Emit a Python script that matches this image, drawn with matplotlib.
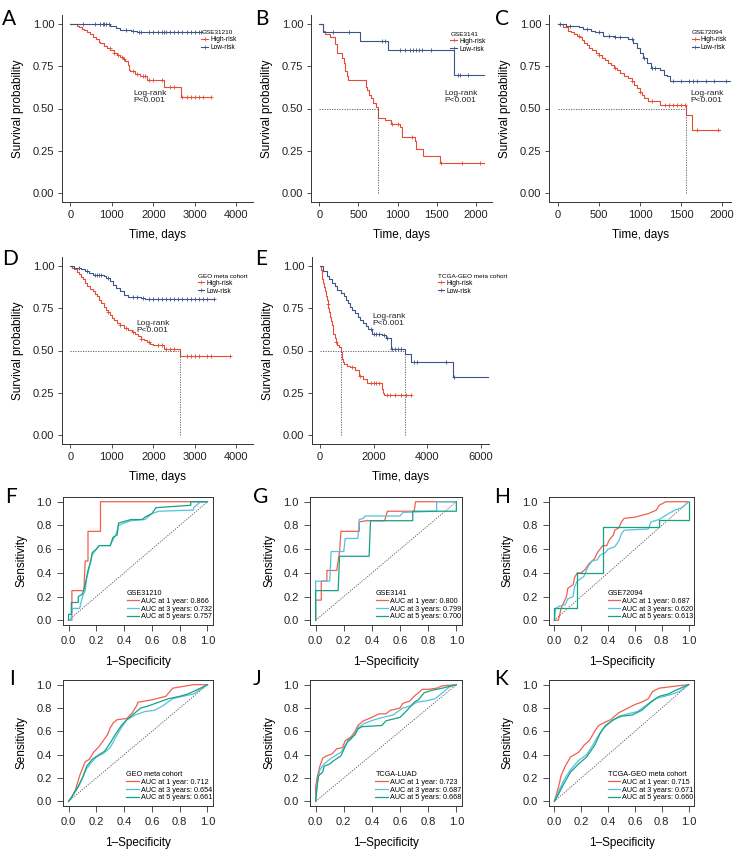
import numpy as np
import matplotlib.pyplot as plt

plt.rcParams['font.family'] = ['Liberation Sans', 'DejaVu Sans']

# ---------------- Kaplan-Meier data (event times, survival after event, end of follow-up, censor times)
A_cohort = 'GSE31210'
A_high_t = [160, 220, 280, 340, 400, 470, 540, 610, 680, 725, 800, 885, 960, 1046, 1130, 1207, 1270,
            1328, 1380, 1410, 1440, 1560, 1690, 1851, 2254, 2656]
A_high_s = [0.99, 0.98, 0.97, 0.965, 0.955, 0.94, 0.925, 0.91, 0.895, 0.885, 0.87, 0.855, 0.845, 0.83,
            0.815, 0.805, 0.795, 0.78, 0.76, 0.73, 0.72, 0.705, 0.69, 0.67, 0.63, 0.57]
A_high_end = 3400
A_high_cens = [950, 1050, 1150, 1250, 1300, 1500, 1600, 1750, 1800, 1900, 2000, 2200, 2400, 2500,
               2700, 2800, 2900, 3000, 3100, 3200, 3400]
A_low_t = [450, 960, 1000, 1100, 1200, 1300, 1450, 1610, 1850]
A_low_s = [0.998, 0.99, 0.985, 0.975, 0.965, 0.962, 0.958, 0.953, 0.95]
A_low_end = 3150
A_low_cens = [300, 600, 720, 780, 820, 870, 930, 1350, 1500, 1650, 1700, 1900, 2000, 2100, 2200, 2250,
              2300, 2400, 2500, 2600, 2700, 2800, 2900, 3000, 3100, 3150]

B_cohort = 'GSE3141'
B_high_t = [42, 76, 140, 203, 225, 290, 310, 330, 350, 373, 593, 615, 635, 661, 690, 720, 745, 840,
            910, 1030, 1050, 1220, 1240, 1326, 1540]
B_high_s = [0.96, 0.94, 0.92, 0.88, 0.83, 0.80, 0.77, 0.72, 0.69, 0.67, 0.63, 0.61, 0.58, 0.56, 0.53,
            0.51, 0.445, 0.43, 0.41, 0.39, 0.33, 0.31, 0.26, 0.22, 0.18]
B_high_end = 2100
B_high_cens = [930, 1000, 1180, 1560, 1820, 2050]
B_low_t = [42, 520, 880, 1720]
B_low_s = [0.955, 0.90, 0.845, 0.70]
B_low_end = 2100
B_low_cens = [180, 380, 800, 840, 1030, 1100, 1160, 1200, 1230, 1270, 1310, 1430, 1770, 1800, 1900]

C_cohort = 'GSE72094'
C_high_t = [60, 120, 160, 200, 230, 260, 290, 320, 350, 380, 420, 460, 500, 540, 575, 610, 645, 680,
            720, 760, 800, 850, 900, 930, 960, 1000, 1020, 1050, 1100, 1240, 1565, 1630]
C_high_s = [0.98, 0.96, 0.95, 0.94, 0.93, 0.92, 0.905, 0.89, 0.875, 0.86, 0.845, 0.83, 0.815, 0.80,
            0.785, 0.77, 0.755, 0.74, 0.725, 0.71, 0.695, 0.68, 0.66, 0.64, 0.62, 0.60, 0.58, 0.56,
            0.545, 0.52, 0.46, 0.37]
C_high_end = 1980
C_high_cens = [250, 500, 700, 900, 1000, 1150, 1300, 1350, 1400, 1450, 1500, 1550, 1700, 1950]
C_low_t = [100, 250, 300, 400, 450, 550, 700, 800, 850, 920, 960, 1000, 1040, 1080, 1140, 1250, 1290,
           1330, 1360]
C_low_s = [0.99, 0.98, 0.97, 0.96, 0.95, 0.93, 0.925, 0.92, 0.91, 0.89, 0.86, 0.83, 0.80, 0.77, 0.74,
           0.73, 0.70, 0.69, 0.66]
C_low_end = 2100
C_low_cens = [30, 150, 350, 500, 620, 700, 760, 900, 1050, 1150, 1180, 1400, 1500, 1600, 1650, 1700,
              1800, 1900, 2050]

D_cohort = 'GEO meta cohort'
D_high_t = [50, 100, 150, 200, 250, 300, 350, 400, 475, 550, 600, 650, 700, 750, 800, 850, 900, 950,
            1000, 1050, 1125, 1200, 1300, 1400, 1475, 1550, 1625, 1700, 1775, 1850, 1925, 2000, 2250,
            2650]
D_high_s = [0.99, 0.98, 0.965, 0.95, 0.935, 0.92, 0.90, 0.88, 0.865, 0.85, 0.835, 0.82, 0.80, 0.78,
            0.76, 0.74, 0.725, 0.71, 0.695, 0.68, 0.665, 0.65, 0.635, 0.62, 0.61, 0.60, 0.585, 0.57,
            0.56, 0.55, 0.54, 0.535, 0.51, 0.465]
D_high_end = 3850
D_high_cens = [900, 1200, 1350, 1500, 1700, 1900, 2100, 2200, 2300, 2400, 2500, 2800, 2900, 3000,
               3100, 3300, 3400, 3850]
D_low_t = [100, 250, 350, 450, 550, 800, 870, 950, 1020, 1100, 1200, 1300, 1400, 1700, 1800]
D_low_s = [0.99, 0.98, 0.97, 0.96, 0.945, 0.94, 0.93, 0.91, 0.89, 0.87, 0.85, 0.83, 0.815, 0.81, 0.805]
D_low_end = 3450
D_low_cens = [200, 400, 600, 650, 700, 750, 900, 1500, 1600, 1750, 1900, 2000, 2100, 2200, 2300, 2400,
              2500, 2600, 2700, 2800, 2900, 3000, 3100, 3200, 3300, 3450]

E_cohort = 'TCGA-GEO meta cohort'
E_high_t = [30, 60, 90, 120, 150, 190, 220, 250, 280, 310, 340, 370, 400, 440, 470, 500, 550, 600, 650,
            700, 770, 800, 850, 900, 1000, 1100, 1300, 1450, 1600, 1750, 2300, 2350, 2400]
E_high_s = [0.975, 0.95, 0.925, 0.90, 0.875, 0.85, 0.825, 0.80, 0.775, 0.75, 0.725, 0.70, 0.675, 0.65,
            0.625, 0.60, 0.575, 0.55, 0.535, 0.52, 0.49, 0.45, 0.43, 0.42, 0.41, 0.40, 0.385, 0.35,
            0.33, 0.305, 0.27, 0.25, 0.235]
E_high_end = 3400
E_high_cens = [300, 600, 1200, 1500, 1900, 2000, 2100, 2200, 2500, 2600, 2800, 3000, 3200, 3400]
E_low_t = [100, 250, 350, 450, 550, 650, 775, 900, 975, 1050, 1125, 1200, 1300, 1400, 1500, 1600, 1700,
           1800, 1950, 2300, 2450, 2650, 3150, 3400, 4950]
E_low_s = [0.97, 0.94, 0.92, 0.90, 0.88, 0.86, 0.84, 0.82, 0.80, 0.78, 0.76, 0.74, 0.72, 0.70, 0.68,
           0.66, 0.645, 0.63, 0.60, 0.59, 0.575, 0.51, 0.48, 0.43, 0.345]
E_low_end = 6300
E_low_cens = [1900, 2000, 2100, 2200, 2400, 2500, 2700, 2800, 2900, 3000, 3500, 3600, 4700, 5000]

# ---------------- time-dependent ROC data (1-specificity, sensitivity) and AUC
F_cohort = 'GSE31210'
F_auc = [0.866, 0.732, 0.757]
F_x1 = [0, 0.024, 0.024, 0.11, 0.12, 0.14, 0.14, 0.23, 0.23, 1.0]
F_y1 = [0, 0, 0.25, 0.25, 0.5, 0.5, 0.75, 0.75, 1.0, 1.0]
F_x3 = [0, 0.02, 0.02, 0.03, 0.08, 0.1, 0.12, 0.13, 0.15, 0.17, 0.2, 0.22, 0.3, 0.32, 0.34, 0.36, 0.4,
        0.45, 0.55, 0.57, 0.6, 0.65, 0.9, 0.9, 0.95, 1.0]
F_y3 = [0, 0, 0.05, 0.1, 0.1, 0.2, 0.25, 0.35, 0.45, 0.55, 0.6, 0.63, 0.63, 0.68, 0.72, 0.8, 0.82,
        0.84, 0.85, 0.87, 0.9, 0.92, 0.93, 0.95, 1.0, 1.0]
F_x5 = [0, 0, 0.02, 0.02, 0.07, 0.07, 0.1, 0.12, 0.14, 0.16, 0.17, 0.2, 0.22, 0.3, 0.32, 0.35, 0.36,
        0.42, 0.45, 0.53, 0.55, 0.6, 0.63, 0.88, 0.88, 1.0]
F_y5 = [0, 0.05, 0.05, 0.15, 0.15, 0.2, 0.22, 0.3, 0.42, 0.5, 0.57, 0.6, 0.63, 0.63, 0.7, 0.72, 0.82,
        0.84, 0.85, 0.85, 0.87, 0.9, 0.95, 0.97, 1.0, 1.0]

G_cohort = 'GSE3141'
G_auc = [0.800, 0.799, 0.700]
G_x1 = [0, 0, 0.04, 0.04, 0.08, 0.08, 0.15, 0.17, 0.18, 0.31, 0.31, 0.36, 0.49, 0.51, 0.7, 0.71, 1.0]
G_y1 = [0, 0.17, 0.17, 0.33, 0.33, 0.42, 0.42, 0.58, 0.75, 0.75, 0.83, 0.84, 0.84, 0.92, 0.92, 1.0, 1.0]
G_x3 = [0, 0, 0.1, 0.11, 0.2, 0.21, 0.3, 0.31, 0.34, 0.35, 0.6, 0.62, 0.86, 0.86, 1.0]
G_y3 = [0, 0.33, 0.33, 0.58, 0.58, 0.69, 0.69, 0.85, 0.86, 0.88, 0.88, 0.91, 0.92, 1.0, 1.0]
G_x5 = [0, 0, 0.16, 0.17, 0.38, 0.39, 0.69, 0.69, 1.0, 1.0]
G_y5 = [0, 0.25, 0.25, 0.54, 0.54, 0.84, 0.84, 0.92, 0.92, 1.0]

H_cohort = 'GSE72094'
H_auc = [0.687, 0.620, 0.613]
H_x1 = [0, 0.03, 0.04, 0.05, 0.07, 0.09, 0.1, 0.14, 0.15, 0.17, 0.2, 0.23, 0.26, 0.28, 0.3, 0.32, 0.34,
        0.36, 0.39, 0.41, 0.44, 0.45, 0.48, 0.5, 0.52, 0.6, 0.7, 0.76, 0.78, 0.83, 1.0]
H_y1 = [0, 0, 0.05, 0.1, 0.15, 0.2, 0.27, 0.3, 0.36, 0.4, 0.4, 0.43, 0.48, 0.5, 0.52, 0.57, 0.6, 0.63,
        0.63, 0.68, 0.72, 0.76, 0.78, 0.83, 0.86, 0.87, 0.9, 0.93, 0.97, 1.0, 1.0]
H_x3 = [0, 0.01, 0.04, 0.08, 0.1, 0.14, 0.15, 0.17, 0.22, 0.25, 0.28, 0.32, 0.34, 0.38, 0.4, 0.45, 0.48,
        0.5, 0.52, 0.7, 0.72, 0.78, 0.85, 0.9, 0.95, 1.0]
H_y3 = [0, 0.1, 0.12, 0.13, 0.18, 0.2, 0.28, 0.33, 0.37, 0.45, 0.5, 0.51, 0.55, 0.57, 0.6, 0.62, 0.67,
        0.73, 0.76, 0.77, 0.83, 0.85, 0.9, 0.93, 0.95, 1.0]
H_x5 = [0, 0, 0.17, 0.17, 0.36, 0.36, 0.78, 0.78, 1.0, 1.0]
H_y5 = [0, 0.1, 0.1, 0.4, 0.4, 0.79, 0.79, 0.85, 0.85, 1.0]

I_cohort = 'GEO meta cohort'
I_auc = [0.712, 0.654, 0.661]
I_x1 = [0, 0.02, 0.05, 0.08, 0.1, 0.12, 0.15, 0.18, 0.22, 0.25, 0.28, 0.3, 0.32, 0.35, 0.42, 0.46, 0.49,
        0.5, 0.6, 0.7, 0.75, 0.8, 0.9, 1.0]
I_y1 = [0, 0.03, 0.1, 0.22, 0.28, 0.34, 0.36, 0.42, 0.47, 0.52, 0.57, 0.63, 0.67, 0.7, 0.71, 0.76,
        0.82, 0.85, 0.87, 0.9, 0.97, 0.98, 1.0, 1.0]
I_x3 = [0, 0.03, 0.07, 0.1, 0.13, 0.17, 0.2, 0.25, 0.3, 0.34, 0.38, 0.42, 0.48, 0.55, 0.62, 0.68, 0.75,
        0.82, 0.9, 0.95, 1.0]
I_y3 = [0, 0.05, 0.12, 0.2, 0.28, 0.34, 0.38, 0.41, 0.46, 0.55, 0.63, 0.7, 0.74, 0.77, 0.78, 0.82, 0.88,
        0.9, 0.92, 0.96, 1.0]
I_x5 = [0, 0.03, 0.07, 0.1, 0.13, 0.17, 0.22, 0.26, 0.3, 0.33, 0.38, 0.42, 0.48, 0.52, 0.58, 0.65, 0.72,
        0.8, 0.86, 0.95, 1.0]
I_y5 = [0, 0.05, 0.13, 0.2, 0.3, 0.36, 0.4, 0.43, 0.5, 0.56, 0.65, 0.7, 0.76, 0.8, 0.82, 0.85, 0.88,
        0.9, 0.92, 0.97, 1.0]

J_cohort = 'TCGA-LUAD'
J_auc = [0.723, 0.687, 0.668]
J_x1 = [0, 0.0, 0.01, 0.03, 0.05, 0.08, 0.12, 0.15, 0.19, 0.21, 0.25, 0.28, 0.3, 0.34, 0.4, 0.45, 0.5,
        0.53, 0.6, 0.62, 0.67, 0.7, 0.73, 0.76, 0.8, 0.86, 0.9, 1.0]
J_y1 = [0, 0.12, 0.2, 0.3, 0.37, 0.39, 0.41, 0.45, 0.46, 0.52, 0.55, 0.6, 0.65, 0.69, 0.72, 0.75, 0.75,
        0.78, 0.8, 0.84, 0.86, 0.9, 0.93, 0.96, 0.96, 0.97, 0.99, 1.0]
J_x3 = [0, 0.01, 0.03, 0.06, 0.1, 0.15, 0.18, 0.22, 0.25, 0.28, 0.3, 0.35, 0.42, 0.48, 0.55, 0.62, 0.68,
        0.72, 0.78, 0.85, 0.9, 0.95, 1.0]
J_y3 = [0, 0.15, 0.27, 0.32, 0.36, 0.4, 0.42, 0.5, 0.53, 0.58, 0.63, 0.67, 0.7, 0.72, 0.74, 0.8, 0.82,
        0.85, 0.86, 0.88, 0.93, 0.98, 1.0]
J_x5 = [0, 0.01, 0.02, 0.05, 0.06, 0.1, 0.13, 0.18, 0.21, 0.23, 0.28, 0.3, 0.33, 0.47, 0.5, 0.6, 0.65,
        0.7, 0.73, 0.77, 0.82, 0.9, 1.0]
J_y5 = [0, 0.12, 0.22, 0.25, 0.3, 0.32, 0.35, 0.39, 0.47, 0.52, 0.57, 0.62, 0.64, 0.65, 0.69, 0.72, 0.78,
        0.85, 0.87, 0.93, 0.95, 0.97, 1.0]

K_cohort = 'TCGA-GEO meta cohort'
K_auc = [0.715, 0.671, 0.660]
K_x1 = [0, 0.03, 0.05, 0.08, 0.12, 0.18, 0.22, 0.26, 0.3, 0.33, 0.38, 0.42, 0.48, 0.55, 0.6, 0.65, 0.7,
        0.73, 0.78, 0.85, 0.92, 1.0]
K_y1 = [0, 0.12, 0.22, 0.3, 0.38, 0.42, 0.48, 0.52, 0.6, 0.65, 0.68, 0.7, 0.76, 0.8, 0.83, 0.85, 0.88,
        0.94, 0.97, 0.98, 0.99, 1.0]
K_x3 = [0, 0.03, 0.07, 0.12, 0.18, 0.24, 0.28, 0.32, 0.36, 0.42, 0.48, 0.55, 0.62, 0.68, 0.75, 0.82,
        0.88, 0.93, 1.0]
K_y3 = [0, 0.08, 0.18, 0.27, 0.35, 0.4, 0.47, 0.55, 0.62, 0.68, 0.73, 0.75, 0.77, 0.82, 0.88, 0.9,
        0.92, 0.94, 1.0]
K_x5 = [0, 0.03, 0.07, 0.12, 0.18, 0.24, 0.3, 0.34, 0.38, 0.44, 0.5, 0.58, 0.65, 0.72, 0.78, 0.85, 0.9,
        1.0]
K_y5 = [0, 0.06, 0.15, 0.25, 0.32, 0.38, 0.48, 0.58, 0.65, 0.7, 0.73, 0.74, 0.78, 0.85, 0.9, 0.92,
        0.95, 1.0]

KM_RED, KM_BLUE = '#E64B35', '#3C5488'
ROC_COLORS = ['#F0604D', '#56C1DE', '#15A286']
ROC_LABELS = ['AUC at 1 year: {:.3f}', 'AUC at 3 years: {:.3f}', 'AUC at 5 years: {:.3f}']
AX_COL = '#333333'

W, H = 735, 852
fig = plt.figure(figsize=(W / 100, H / 100), dpi=100)


def px_axes(x0, y0, x1, y1):
    return fig.add_axes([x0 / W, 1 - y1 / H, (x1 - x0) / W, (y1 - y0) / H])


def letter(x, y, s):
    fig.text(x / W, 1 - y / H, s, fontsize=15, family=['Lato', 'DejaVu Sans'],
             ha='left', va='center')


def km_panel(box, xlim, xticks, cohort, groups, pval_xy, leg_xy):
    ax = px_axes(*box)
    w = box[2] - box[0]
    h = box[3] - box[1]
    medians = []
    handles = []
    for (t, s, end, cens), col in zip(groups, [KM_RED, KM_BLUE]):
        tt = np.r_[0, t, end]
        ss = np.r_[1.0, s, s[-1]]
        ax.step(tt, ss, where='post', color=col, lw=0.8)
        cy = ss[np.searchsorted(tt, cens, side='right') - 1]
        ax.plot(cens, cy, '+', color=col, ms=2.8, mew=0.6)
        below = np.where(np.asarray(s) <= 0.5)[0]
        if len(below):
            medians.append(t[below[0]])
        handles.append(plt.Line2D([], [], color=col, lw=0.8, marker='+', ms=2.5, mew=0.5))
    if medians:
        ax.plot([0, max(medians)], [0.5, 0.5], ls=(0, (1.5, 1.5)), color='#555555', lw=0.6)
        for m in medians:
            ax.plot([m, m], [0, 0.5], ls=(0, (1.5, 1.5)), color='#555555', lw=0.6)
    ax.set_xlim(*xlim)
    ax.set_ylim(-0.053, 1.053)
    ax.set_xticks(xticks)
    ax.set_yticks([0, 0.25, 0.5, 0.75, 1.0])
    ax.set_yticklabels(['0.00', '0.25', '0.50', '0.75', '1.00'])
    for sp in ['top', 'right']:
        ax.spines[sp].set_visible(False)
    for sp in ['left', 'bottom']:
        ax.spines[sp].set_color(AX_COL)
        ax.spines[sp].set_linewidth(0.7)
    ax.tick_params(length=3, width=0.6, color=AX_COL, labelsize=8, pad=2.5, labelcolor='#222222')
    ax.set_ylabel('Survival probability', fontsize=8.5)
    ax.set_xlabel('Time, days', fontsize=8.5)
    ax.yaxis.set_label_coords(-38 / w, 0.5)
    ax.xaxis.set_label_coords(0.5, -27 / h)
    ax.text(pval_xy[0], pval_xy[1], 'Log-rank\nP<0.001', transform=ax.transAxes, fontsize=6,
            ha='left', va='top', linespacing=1.05, color='#222222')
    ax.legend(handles, ['High-risk', 'Low-risk'], title=cohort, loc='upper left',
              bbox_to_anchor=leg_xy, frameon=False, fontsize=4.8, title_fontsize=4.6,
              handlelength=1.0, handletextpad=0.3, labelspacing=0.15, borderpad=0,
              borderaxespad=0, alignment='left')
    return ax


def roc_panel(box, cohort, curves, aucs):
    ax = px_axes(*box)
    w = box[2] - box[0]
    h = box[3] - box[1]
    ax.plot([0, 1], [0, 1], ls=(0, (1.5, 1.5)), color='#555555', lw=0.6)
    for (fx, fy), col in zip(curves, ROC_COLORS):
        ax.plot(fx, fy, color=col, lw=0.9)
    ax.set_xlim(-0.04, 1.04)
    ax.set_ylim(-0.04, 1.04)
    ticks = np.arange(0, 1.01, 0.2)
    ax.set_xticks(ticks)
    ax.set_yticks(ticks)
    ax.set_xticklabels(['%.1f' % v for v in ticks])
    ax.set_yticklabels(['%.1f' % v for v in ticks])
    for sp in ax.spines.values():
        sp.set_color(AX_COL)
        sp.set_linewidth(0.7)
    ax.tick_params(length=4, width=0.6, color=AX_COL, labelsize=8, pad=4, labelcolor='#222222')
    ax.set_xlabel('1–Specificity', fontsize=8.5)
    ax.set_ylabel('Sensitivity', fontsize=8.5)
    ax.yaxis.set_label_coords(-35 / w, 0.5)
    ax.xaxis.set_label_coords(0.5, -31 / h)
    handles = [plt.Line2D([], [], color=c, lw=0.9) for c in ROC_COLORS]
    ax.legend(handles, [lab.format(a) for lab, a in zip(ROC_LABELS, aucs)], title=cohort,
              loc='lower right', bbox_to_anchor=(1.0, 0.03), frameon=False, fontsize=5.2,
              title_fontsize=5.2, handlelength=1.7, handletextpad=0.3, labelspacing=0.12,
              borderpad=0.1, borderaxespad=0, alignment='left')
    return ax


# ---------------- Kaplan-Meier panels
km_panel((62, 15, 253, 202), (-200, 4400), [0, 1000, 2000, 3000, 4000], A_cohort,
         [(A_high_t, A_high_s, A_high_end, A_high_cens), (A_low_t, A_low_s, A_low_end, A_low_cens)],
         (0.375, 0.60), (0.73, 0.92))
km_panel((311, 15, 492, 202), (-105, 2205), [0, 500, 1000, 1500, 2000], B_cohort,
         [(B_high_t, B_high_s, B_high_end, B_high_cens), (B_low_t, B_low_s, B_low_end, B_low_cens)],
         (0.735, 0.60), (0.77, 0.91))
km_panel((549, 15, 731, 202), (-110, 2110), [0, 500, 1000, 1500, 2000], C_cohort,
         [(C_high_t, C_high_s, C_high_end, C_high_cens), (C_low_t, C_low_s, C_low_end, C_low_cens)],
         (0.775, 0.60), (0.785, 0.92))
km_panel((62, 257, 253, 444), (-200, 4400), [0, 1000, 2000, 3000, 4000], D_cohort,
         [(D_high_t, D_high_s, D_high_end, D_high_cens), (D_low_t, D_low_s, D_low_end, D_low_cens)],
         (0.39, 0.665), (0.71, 0.91))
km_panel((312, 257, 489, 444), (-300, 6300), [0, 2000, 4000, 6000], E_cohort,
         [(E_high_t, E_high_s, E_high_end, E_high_cens), (E_low_t, E_low_s, E_low_end, E_low_cens)],
         (0.34, 0.70), (0.71, 0.91))

# ---------------- ROC panels
roc_panel((63, 497, 213, 625), F_cohort, [(F_x1, F_y1), (F_x3, F_y3), (F_x5, F_y5)], F_auc)
roc_panel((310, 497, 462, 625), G_cohort, [(G_x1, G_y1), (G_x3, G_y3), (G_x5, G_y5)], G_auc)
roc_panel((549, 497, 694, 625), H_cohort, [(H_x1, H_y1), (H_x3, H_y3), (H_x5, H_y5)], H_auc)
roc_panel((63, 680, 213, 806), I_cohort, [(I_x1, I_y1), (I_x3, I_y3), (I_x5, I_y5)], I_auc)
roc_panel((310, 680, 462, 806), J_cohort, [(J_x1, J_y1), (J_x3, J_y3), (J_x5, J_y5)], J_auc)
roc_panel((549, 680, 694, 806), K_cohort, [(K_x1, K_y1), (K_x3, K_y3), (K_x5, K_y5)], K_auc)

for x, y, s in [(2, 19, 'A'), (255, 19, 'B'), (495, 19, 'C'), (2, 259, 'D'), (255, 259, 'E'),
                (5, 497, 'F'), (253, 497, 'G'), (494, 497, 'H'), (9, 679, 'I'), (253, 679, 'J'),
                (494, 679, 'K')]:
    letter(x, y, s)

fig.savefig('out.png', dpi=100)
